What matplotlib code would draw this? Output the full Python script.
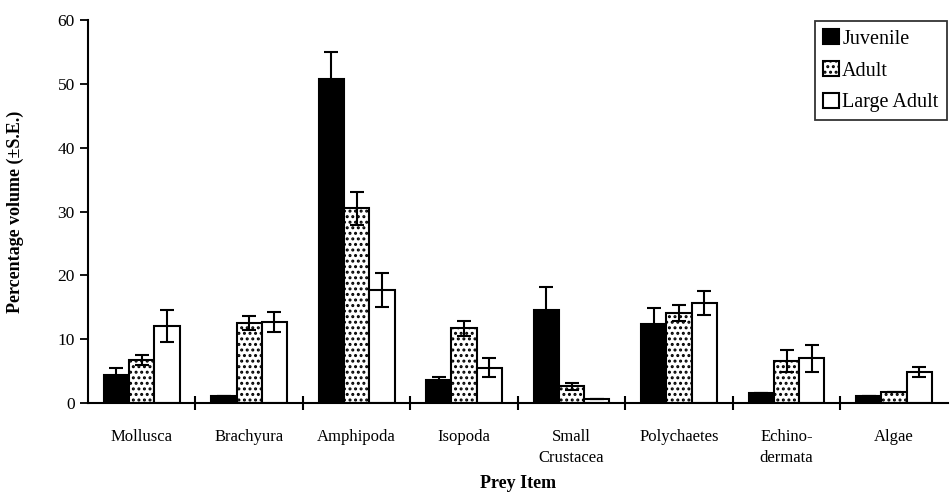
import numpy as np
import matplotlib.pyplot as plt

plt.rcParams['font.family'] = ['Liberation Serif', 'DejaVu Serif']
plt.rcParams['hatch.linewidth'] = 1.4

categories = ['Mollusca', 'Brachyura', 'Amphipoda', 'Isopoda', 'Small\nCrustacea',
              'Polychaetes', 'Echino-\ndermata', 'Algae']
juvenile = [4.4, 1.1, 50.8, 3.6, 14.5, 12.4, 1.6, 1.1]
juvenile_se = [1.1, 0.0, 4.2, 0.5, 3.7, 2.5, 0.0, 0.0]
adult = [6.7, 12.5, 30.5, 11.7, 2.6, 14.1, 6.6, 1.7]
adult_se = [0.8, 1.1, 2.6, 1.2, 0.5, 1.2, 1.7, 0.0]
large_adult = [12.1, 12.7, 17.7, 5.5, 0.7, 15.7, 7.0, 4.9]
large_adult_se = [2.5, 1.6, 2.7, 1.5, 0.0, 1.9, 2.1, 0.8]

x = np.arange(len(categories))
w = 0.235

fig = plt.figure(figsize=(9.5, 5), dpi=100)
ax = fig.add_axes([0.0926, 0.194, 0.905, 0.766])

err_kw = dict(ecolor='black', elinewidth=1.5, capsize=5, capthick=1.5)
ax.bar(x - w, juvenile, w, yerr=juvenile_se, color='black', edgecolor='black',
       linewidth=1.5, label='Juvenile', error_kw=err_kw)
ax.bar(x, adult, w, yerr=adult_se, color='white', edgecolor='black', hatch='...',
       linewidth=1.5, label='Adult', error_kw=err_kw)
ax.bar(x + w, large_adult, w, yerr=large_adult_se, color='white', edgecolor='black',
       linewidth=1.5, label='Large Adult', error_kw=err_kw)

ax.set_xlim(-0.5, len(categories) - 0.5)
ax.set_ylim(0, 60)
ax.set_yticks(np.arange(0, 61, 10))
ax.set_xticks(x)
ax.set_xticklabels(categories, fontsize=12, linespacing=1.35)
ax.set_xticks(np.arange(0.5, len(categories) - 0.5, 1), minor=True)
ax.tick_params(axis='x', which='major', length=0, pad=19)
ax.tick_params(axis='x', which='minor', direction='inout', length=10, width=1.5)
ax.tick_params(axis='y', direction='out', length=6, width=1.3, labelsize=12.5)

for s in ['top', 'right']:
    ax.spines[s].set_visible(False)
for s in ['left', 'bottom']:
    ax.spines[s].set_linewidth(1.5)

ax.set_ylabel('Percentage volume (\u00b1S.E.)', fontsize=13, fontweight='bold', labelpad=24)
ax.set_xlabel('Prey Item', fontsize=13, fontweight='bold', labelpad=7)

leg = fig.legend(loc='upper left', bbox_to_anchor=(0.858, 0.958), fontsize=14.5,
                 frameon=True, fancybox=False, edgecolor='black', handlelength=0.8,
                 handleheight=0.8, handletextpad=0.15, borderpad=0.4, labelspacing=0.6,
                 borderaxespad=0)
leg.get_frame().set_linewidth(1.3)

fig.savefig('out.png', dpi=100)
